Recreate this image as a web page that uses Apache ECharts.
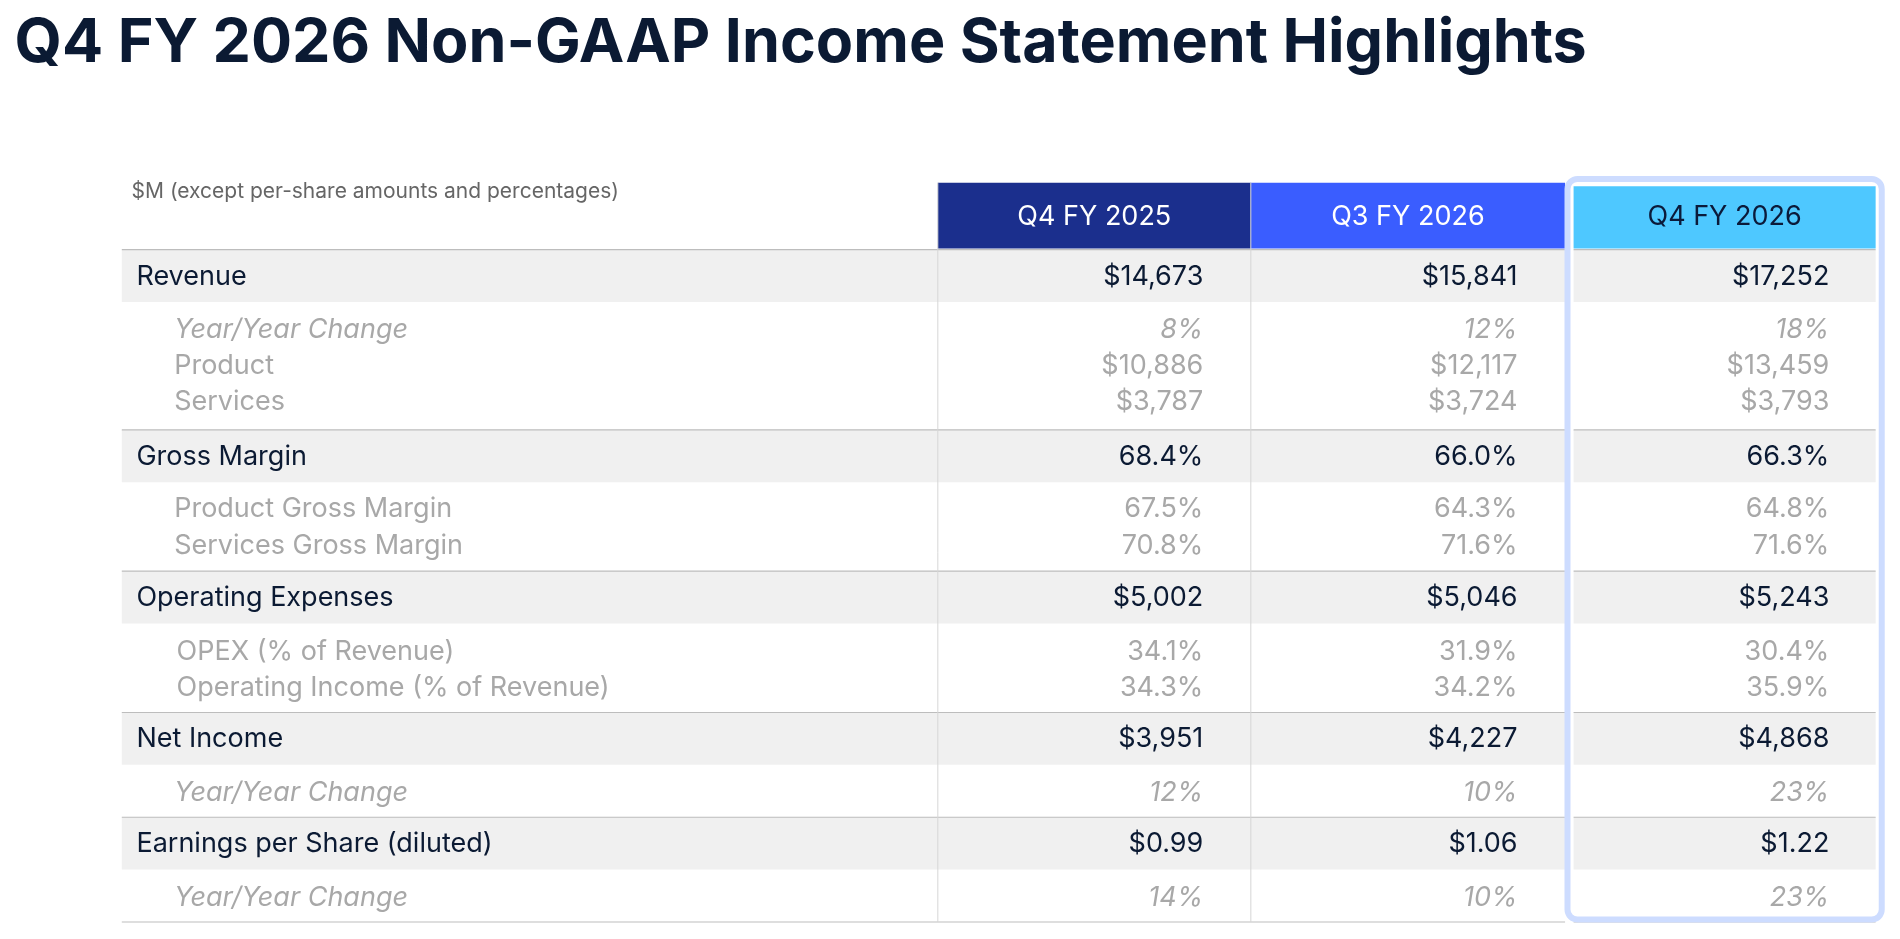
<!DOCTYPE html>
<html><head><meta charset="utf-8">
<script src="https://cdn.jsdelivr.net/npm/echarts@6/dist/echarts.min.js"></script>
<style>html,body{margin:0;background:#fff}#c{width:1900px;height:939px}</style>
</head><body><div id="c"></div>
<script>
var columns = ['Q4 FY 2025', 'Q3 FY 2026', 'Q4 FY 2026'];
var rowLabels = ['Revenue', 'Year/Year Change', 'Product', 'Services',
  'Gross Margin', 'Product Gross Margin', 'Services Gross Margin',
  'Operating Expenses', 'OPEX (% of Revenue)', 'Operating Income (% of Revenue)',
  'Net Income', 'Year/Year Change', 'Earnings per Share (diluted)', 'Year/Year Change'];
var rowKind = ['main', 'yoy', 'sub', 'sub', 'main', 'sub', 'sub', 'main', 'sub', 'sub', 'main', 'yoy', 'main', 'yoy'];
var q4fy25 = ['$14,673', '8%', '$10,886', '$3,787', '68.4%', '67.5%', '70.8%', '$5,002', '34.1%', '34.3%', '$3,951', '12%', '$0.99', '14%'];
var q3fy26 = ['$15,841', '12%', '$12,117', '$3,724', '66.0%', '64.3%', '71.6%', '$5,046', '31.9%', '34.2%', '$4,227', '10%', '$1.06', '10%'];
var q4fy26 = ['$17,252', '18%', '$13,459', '$3,793', '66.3%', '64.8%', '71.6%', '$5,243', '30.4%', '35.9%', '$4,868', '23%', '$1.22', '23%'];
var rowY = [227, 271, 300, 330, 375, 418, 448, 491, 535, 565, 607, 651, 693, 737];

var s = 1900 / 1560;
var FONT = 'Inter, "Noto Sans", sans-serif';
var colors = ['#1b2f8d', '#3a5dff', '#4ec8ff'];
var headText = ['#fff', '#fff', '#0b1a3a'];
var colL = [770, 1027, 1292], colR = [1027, 1285, 1540];
var vals = [q4fy25, q3fy26, q4fy26];
var g = [];

function R(x, y, w, h, fill, z) {
  g.push({ type: 'rect', z: z || 1, shape: { x: x * s, y: y * s, width: w * s, height: h * s }, style: { fill: fill } });
}
function L(x1, y1, x2, y2, c, w) {
  g.push({ type: 'line', z: 3, shape: { x1: x1 * s, y1: y1 * s, x2: x2 * s, y2: y2 * s }, style: { stroke: c, lineWidth: w || 1 } });
}
function T(txt, x, y, align, size, color, italic, weight) {
  g.push({ type: 'text', z: 5, x: x * s, y: y * s, style: { text: txt, align: align, verticalAlign: 'middle',
    font: (italic ? 'italic ' : '') + (weight || 'normal') + ' ' + Math.round(size * s) + 'px ' + FONT, fill: color } });
}

T('Q4 FY 2026 Non-GAAP Income Statement Highlights', 12, 36, 'left', 50, '#0b1a33', false, 'bold');
T('$M (except per-share amounts and percentages)', 108, 157, 'left', 17, '#666');

// main row bands and separators
rowLabels.forEach(function (lab, i) {
  if (rowKind[i] === 'main') {
    R(100, rowY[i] - 22, 1185, 43, '#f0f0f0');
    R(1292, rowY[i] - 22, 248, 43, '#f0f0f0');
    L(100, rowY[i] - 22, 1285, rowY[i] - 22, '#bdbdbd', 1.2);
    L(1292, rowY[i] - 22, 1540, rowY[i] - 22, '#bdbdbd', 1.2);
  }
});
L(100, 757, 1285, 757, '#bdbdbd', 1.2);
L(1292, 757, 1540, 757, '#bdbdbd', 1.2);
L(770, 150, 770, 757, '#d6d6d6', 1);
L(1027, 150, 1027, 757, '#d6d6d6', 1);

// highlight frame
g.push({ type: 'rect', z: 6, shape: { x: 1287 * s, y: 147 * s, width: 258 * s, height: 608 * s, r: 10 },
  style: { fill: 'none', stroke: '#cddcff', lineWidth: 6 } });

columns.forEach(function (c, j) {
  var top = j === 2 ? 153 : 150;
  R(colL[j], top, colR[j] - colL[j], 204 - top, colors[j], 2);
  T(c, (colL[j] + colR[j]) / 2, 178, 'center', 22, headText[j]);
});

rowLabels.forEach(function (lab, i) {
  var k = rowKind[i];
  var main = k === 'main';
  var col = main ? '#0b1a33' : '#a8a8a8';
  var it = k === 'yoy';
  T(lab, main ? 112 : (i === 8 || i === 9 ? 145 : 143), rowY[i], 'left', 22, col, it);
  vals.forEach(function (v, j) {
    T(v[i], colR[j] - (j === 2 ? 38 : 39), rowY[i], 'right', 22, col, it);
  });
});

var chart = echarts.init(document.getElementById('c'));
chart.setOption({ backgroundColor: '#fff', graphic: { elements: g } });
</script></body></html>
